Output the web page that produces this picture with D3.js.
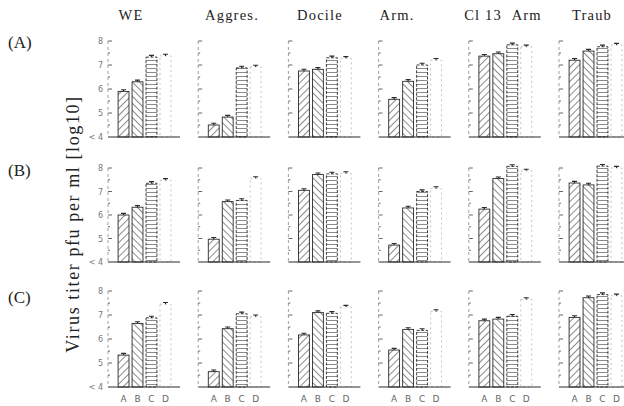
<!DOCTYPE html>
<html>
<head>
  <script src="https://cdn.jsdelivr.net/npm/d3@7/dist/d3.min.js"></script>
  <style>
    body { margin: 0; background: #fff; }
    svg { display: block; }
  </style>
</head>
<body>
  <div id="container"></div>
  <script>
    // data (log10 titer, 4 = "<4")
    const viruses = ["WE", "Aggres.", "Docile", "Arm.", "Cl 13\u00a0\u00a0Arm", "Traub"];
    const rowLabels = ["(A)", "(B)", "(C)"];
    const bars = ["A", "B", "C", "D"];
    const tickLabels = ["< 4", "5", "6", "7", "8"];

    const rowA = [
      [5.9, 6.3, 7.33, 7.38],
      [4.5, 4.83, 6.88, 6.92],
      [6.75, 6.82, 7.3, 7.28],
      [5.57, 6.32, 7.0, 7.2],
      [7.37, 7.47, 7.84, 7.76],
      [7.2, 7.58, 7.76, 7.83]
    ];
    const rowB = [
      [6.0, 6.33, 7.35, 7.48],
      [4.97, 6.57, 6.62, 7.56],
      [7.05, 7.72, 7.75, 7.77],
      [4.72, 6.3, 7.0, 7.13],
      [6.25, 7.55, 8.07, 7.88],
      [7.36, 7.28, 8.08, 8.0]
    ];
    const rowC = [
      [5.33, 6.65, 6.88, 7.45],
      [4.64, 6.43, 7.05, 6.93],
      [6.17, 7.1, 7.07, 7.33],
      [5.54, 6.4, 6.36, 7.15],
      [6.76, 6.83, 6.95, 7.65],
      [6.9, 7.72, 7.85, 7.8]
    ];
    const rows = [rowA, rowB, rowC];

    const width = 624, height = 406;
    const ink = "#2a2a2a";

    const svg = d3.select("#container")
      .append("svg")
      .attr("width", width)
      .attr("height", height);

    // hatch fills
    const defs = svg.append("defs");
    function hatch(id, angle, gap) {
      const p = defs.append("pattern")
        .attr("id", id)
        .attr("patternUnits", "userSpaceOnUse")
        .attr("width", gap).attr("height", gap)
        .attr("patternTransform", `rotate(${angle})`);
      p.append("rect").attr("width", gap).attr("height", gap).attr("fill", "#fff");
      p.append("line")
        .attr("x1", 0).attr("y1", 0).attr("x2", 0).attr("y2", gap)
        .attr("stroke", ink).attr("stroke-width", 1.1);
    }
    hatch("hA", 45, 5);
    hatch("hB", -45, 5);
    hatch("hC", 90, 4);
    const fills = ["url(#hA)", "url(#hB)", "url(#hC)", "#fff"];

    // row geometry: y of 8 and of <4
    const rowY = [[41, 137], [168, 262], [291, 387]];
    const colX = d => 108 + d * 90.2;

    // titles
    const titleX = [131, 232, 320, 397, 503, 592];
    svg.selectAll("text.title")
      .data(viruses)
      .join("text")
      .attr("class", "title")
      .attr("x", (d, i) => titleX[i])
      .attr("y", 20)
      .attr("text-anchor", "middle")
      .attr("font-family", "Liberation Serif, serif")
      .attr("font-size", 14.5)
      .attr("letter-spacing", 1.2)
      .attr("fill", "#222")
      .text(d => d);

    svg.selectAll("text.rowlab")
      .data(rowLabels)
      .join("text")
      .attr("class", "rowlab")
      .attr("x", 8)
      .attr("y", (d, i) => [48, 176, 303][i])
      .attr("font-family", "Liberation Serif, serif")
      .attr("font-size", 17)
      .attr("fill", "#222")
      .text(d => d);

    svg.append("text")
      .attr("transform", "translate(79,224) rotate(-90)")
      .attr("text-anchor", "middle")
      .attr("font-family", "Liberation Serif, serif")
      .attr("font-size", 18)
      .attr("letter-spacing", 1.6)
      .attr("fill", "#222")
      .text("Virus titer pfu per ml [log10]");

    rows.forEach((rowData, r) => {
      const y = d3.scaleLinear().domain([4, 8]).range([rowY[r][1], rowY[r][0]]);

      rowData.forEach((vals, c) => {
        const x0 = colX(c);
        const x = d3.scaleBand().domain(bars).range([x0 + 8, x0 + 65]).paddingInner(0.22).paddingOuter(0.15);
        const g = svg.append("g");

        // y axis: dotted spine, major and half ticks
        g.append("line")
          .attr("x1", x0).attr("x2", x0)
          .attr("y1", y(8)).attr("y2", y(4))
          .attr("stroke", "#888").attr("stroke-width", 0.8)
          .attr("stroke-dasharray", "3,3");
        g.selectAll("line.minor")
          .data(d3.range(4.5, 8.01, 0.5))
          .join("line")
          .attr("x1", x0).attr("x2", d => x0 + (d % 1 === 0 ? 4 : 2))
          .attr("y1", d => y(d)).attr("y2", d => y(d))
          .attr("stroke", "#555").attr("stroke-width", 0.9);

        if (c === 0) {
          g.selectAll("text.tick")
            .data(tickLabels)
            .join("text")
            .attr("x", x0 - 5)
            .attr("y", (d, i) => y(4 + i) + 3)
            .attr("text-anchor", "end")
            .attr("font-family", "DejaVu Sans, sans-serif")
            .attr("font-size", 8)
            .attr("fill", "#777")
            .text(d => d);
        }

        // bars
        g.selectAll("rect.bar")
          .data(vals)
          .join("rect")
          .attr("x", (d, i) => x(bars[i]))
          .attr("y", d => y(d))
          .attr("width", x.bandwidth())
          .attr("height", d => y(4) - y(d))
          .attr("fill", (d, i) => fills[i])
          .attr("stroke", (d, i) => i === 3 ? "#aaa" : ink)
          .attr("stroke-width", (d, i) => i === 3 ? 0.7 : 0.9)
          .attr("stroke-dasharray", (d, i) => i === 2 ? "3,1.5" : i === 3 ? "2,3" : null);

        // error caps
        g.selectAll("path.err")
          .data(vals)
          .join("path")
          .attr("d", (d, i) => {
            const cx = x(bars[i]) + x.bandwidth() / 2;
            const t = y(d + 0.07);
            return `M${cx},${y(d)}V${t}M${cx - 2.5},${t}H${cx + 2.5}`;
          })
          .attr("fill", "none")
          .attr("stroke", ink)
          .attr("stroke-width", 1.1);

        // baseline
        g.append("line")
          .attr("x1", x0).attr("x2", x0 + 72)
          .attr("y1", y(4)).attr("y2", y(4))
          .attr("stroke", ink).attr("stroke-width", 1);

        if (r === 2) {
          g.selectAll("text.xlab")
            .data(bars)
            .join("text")
            .attr("x", d => x(d) + x.bandwidth() / 2)
            .attr("y", 402)
            .attr("text-anchor", "middle")
            .attr("font-family", "DejaVu Sans, sans-serif")
            .attr("font-size", 9)
            .attr("fill", "#666")
            .text(d => d);
        }
      });
    });
  </script>
</body>
</html>
